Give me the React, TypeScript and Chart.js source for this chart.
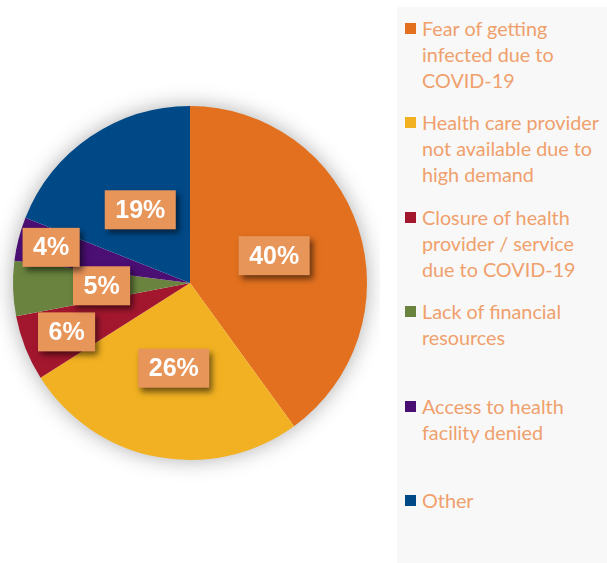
import React, { useEffect, useRef } from "react";
import { Chart, registerables } from "chart.js";

Chart.register(...registerables);

const categories = [
  "Fear of getting\ninfected due to\nCOVID-19",
  "Health care provider\nnot available due to\nhigh demand",
  "Closure of health\nprovider / service\ndue to COVID-19",
  "Lack of financial\nresources",
  "Access to health\nfacility denied",
  "Other",
];
const values = [40, 26, 6, 5, 4, 19];
const colors = ["#E2701F", "#F1B122", "#A3172E", "#6A843F", "#4B0E73", "#004987"];
const labelRadius = [0.5, 0.49, 0.75, 0.5, 0.81, 0.5];

const shadowPlugin = {
  id: "pieShadow",
  beforeDatasetsDraw(chart: any) {
    const meta = chart.getDatasetMeta(0);
    const arc = meta.data[0];
    if (!arc) return;
    const ctx = chart.ctx;
    ctx.save();
    ctx.shadowColor = "rgba(0,0,0,0.35)";
    ctx.shadowBlur = 22;
    ctx.beginPath();
    ctx.arc(arc.x, arc.y, arc.outerRadius - 1, 0, Math.PI * 2);
    ctx.fillStyle = "#ffffff";
    ctx.fill();
    ctx.restore();
  },
};

const labelPlugin = {
  id: "boxLabels",
  afterDatasetsDraw(chart: any) {
    const meta = chart.getDatasetMeta(0);
    const ctx = chart.ctx;
    ctx.save();
    ctx.font = "bold 25px 'Liberation Sans', Arial, sans-serif";
    ctx.textAlign = "center";
    ctx.textBaseline = "middle";
    meta.data.forEach((arc: any, i: number) => {
      const mid = (arc.startAngle + arc.endAngle) / 2;
      const r = arc.outerRadius * labelRadius[i];
      const x = arc.x + Math.cos(mid) * r;
      const y = arc.y + Math.sin(mid) * r;
      const text = values[i] + "%";
      const w = ctx.measureText(text).width + 21;
      const h = 39;
      ctx.save();
      ctx.shadowColor = "rgba(0,0,0,0.55)";
      ctx.shadowBlur = 6;
      ctx.shadowOffsetX = 3;
      ctx.shadowOffsetY = 4;
      ctx.fillStyle = "#E8955A";
      ctx.fillRect(x - w / 2, y - h / 2, w, h);
      ctx.restore();
      ctx.fillStyle = "#ffffff";
      ctx.fillText(text, x, y + 1);
    });
    ctx.restore();
  },
};

export default function App() {
  const ref = useRef<HTMLCanvasElement | null>(null);

  useEffect(() => {
    document.body.style.margin = "0";
    if (!ref.current) return;
    const chart = new Chart(ref.current, {
      type: "pie",
      data: {
        labels: categories.map((c) => c.replace(/\n/g, " ")),
        datasets: [
          {
            data: values,
            backgroundColor: colors,
            borderWidth: 0,
          },
        ],
      },
      options: {
        animation: false,
        responsive: false,
        layout: { padding: { left: 13, right: 13, top: 106, bottom: 103 } },
        plugins: {
          legend: { display: false },
          tooltip: { enabled: false },
        },
      },
      plugins: [shadowPlugin, labelPlugin],
    });
    return () => chart.destroy();
  }, []);

  return (
    <div style={{ position: "relative", width: 607, height: 563, overflow: "hidden", background: "#fff" }}>
      <canvas ref={ref} width={380} height={563} style={{ position: "absolute", left: 0, top: 0 }} />
      <div
        style={{
          position: "absolute",
          left: 397,
          top: 7,
          width: 210,
          height: 556,
          background: "#F8F8F8",
        }}
      >
        {categories.map((c, i) => (
          <div
            key={i}
            style={{
              position: "absolute",
              left: 0,
              top: 8 + i * 94.4,
              width: 210,
              display: "flex",
              alignItems: "flex-start",
            }}
          >
            <div
              style={{
                width: 11,
                height: 11,
                background: colors[i],
                marginLeft: 8,
                marginTop: 8,
                flex: "none",
              }}
            />
            <div
              style={{
                marginLeft: 6,
                whiteSpace: "pre",
                fontFamily: "Lato, 'Open Sans', sans-serif",
                fontSize: 19.8,
                lineHeight: "26px",
                color: "#F0A06C",
              }}
            >
              {c}
            </div>
          </div>
        ))}
      </div>
    </div>
  );
}
